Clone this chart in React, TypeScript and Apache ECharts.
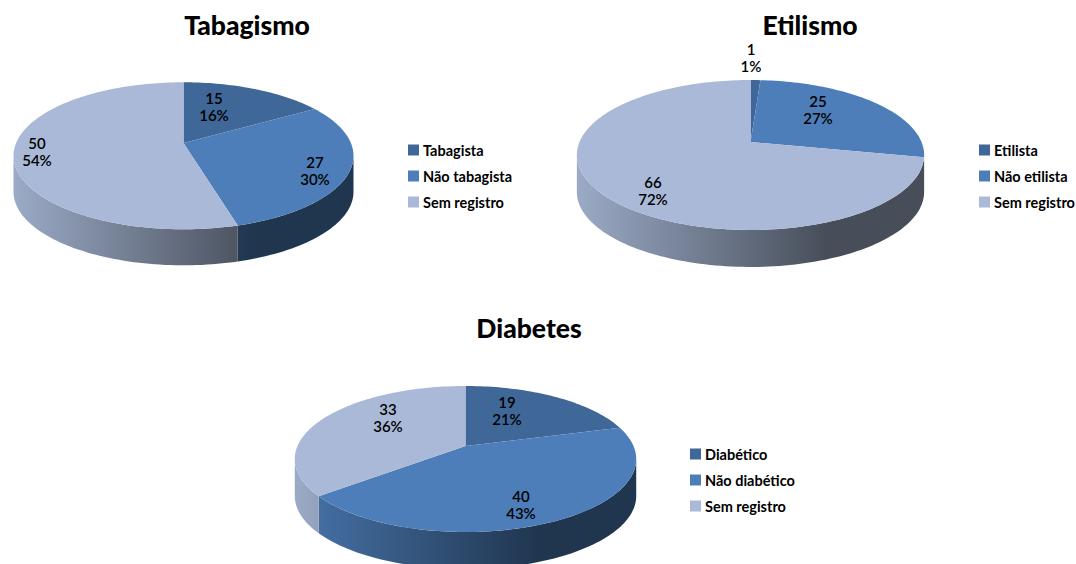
import React, { useEffect, useRef } from "react";
import * as echarts from "echarts";

const FONT = "Lato, 'Open Sans', sans-serif";
const sliceColors = ["#3F6797", "#4D7EB9", "#A9B9D7"];

const tabagismoNames = ["Tabagista", "Não tabagista", "Sem registro"];
const tabagismoValues = [15, 27, 50];
const tabagismoPercents = ["16%", "30%", "54%"];

const etilismoNames = ["Etilista", "Não etilista", "Sem registro"];
const etilismoValues = [1, 25, 66];
const etilismoPercents = ["1%", "27%", "72%"];

const diabetesNames = ["Diabético", "Não diabético", "Sem registro"];
const diabetesValues = [19, 40, 33];
const diabetesPercents = ["21%", "43%", "36%"];

const pies = [
  {
    title: "Tabagismo", names: tabagismoNames, values: tabagismoValues, percents: tabagismoPercents,
    cx: 183.5, cy: 143, rx: 167.4, ry: 71.3, k: 0.174, depth: 36,
    labels: [[214, 106], [315, 170], [37, 151]],
    titleX: 247, titleY: 11, legendX: 408, legendY: 142.5,
  },
  {
    title: "Etilismo", names: etilismoNames, values: etilismoValues, percents: etilismoPercents,
    cx: 750.5, cy: 142, rx: 171, ry: 72.7, k: 0.1734, depth: 37,
    labels: [[751, 57], [818, 109], [653, 190]],
    titleX: 810, titleY: 11, legendX: 979, legendY: 142.5,
  },
  {
    title: "Diabetes", names: diabetesNames, values: diabetesValues, percents: diabetesPercents,
    cx: 465.5, cy: 446, rx: 168, ry: 70.7, k: 0.178, depth: 37,
    labels: [[507, 410], [521, 504], [388, 417]],
    titleX: 529, titleY: 314, legendX: 690, legendY: 446.5,
  },
];

function shade(hex: string, f: number) {
  const n = parseInt(hex.slice(1), 16);
  const c = [(n >> 16) & 255, (n >> 8) & 255, n & 255].map((v) => Math.round(v * f));
  return `rgb(${c[0]},${c[1]},${c[2]})`;
}

function project(p: any, theta: number): [number, number] {
  const u = Math.sin(theta);
  const v = Math.cos(theta);
  const w = 1 + p.k * v;
  return [p.cx + (p.rx * u) / w, p.cy - (p.ry * v) / w];
}

function arc(p: any, a: number, b: number) {
  const n = Math.max(2, Math.ceil(((b - a) / (2 * Math.PI)) * 240));
  const pts: [number, number][] = [];
  for (let i = 0; i <= n; i++) pts.push(project(p, a + ((b - a) * i) / n));
  return pts;
}

function makeSeries(p: any) {
  const total = p.values.reduce((s: number, v: number) => s + v, 0);
  const halfW = p.rx / Math.sqrt(1 - p.k * p.k);
  return p.values.map((value: number, idx: number) => {
    const before = p.values.slice(0, idx).reduce((s: number, v: number) => s + v, 0);
    const color = sliceColors[idx];
    return {
      type: "custom",
      name: p.names[idx],
      coordinateSystem: "none",
      itemStyle: { color },
      silent: true,
      data: [[value, before, total]],
      renderItem: (_params: any, api: any) => {
        const a = (api.value(1) / api.value(2)) * 2 * Math.PI;
        const b = ((api.value(1) + api.value(0)) / api.value(2)) * 2 * Math.PI;
        const children: any[] = [];
        const front = Math.acos(-p.k);
        const wa = Math.max(a, front);
        const wb = Math.min(b, 2 * Math.PI - front);
        if (wb > wa) {
          const edge = arc(p, wa, wb);
          const lower = edge.map(([x, y]) => [x, y + p.depth]).reverse();
          children.push({
            type: "polygon",
            shape: { points: [...edge, ...lower] },
            style: {
              fill: new echarts.graphic.LinearGradient(
                p.cx - halfW, 0, p.cx + halfW, 0,
                [
                  { offset: 0, color: shade(color, 0.92) },
                  { offset: 0.72, color: shade(color, 0.42) },
                  { offset: 1, color: shade(color, 0.42) },
                ],
                true
              ),
            },
          });
        }
        children.push({
          type: "polygon",
          shape: { points: [[p.cx, p.cy], ...arc(p, a, b)] },
          style: { fill: color },
        });
        return { type: "group", children };
      },
    };
  });
}

function labelSeries(p: any) {
  return {
    type: "custom",
    coordinateSystem: "none",
    silent: true,
    z: 5,
    data: p.values.map((v: number, i: number) => [v, i]),
    renderItem: (_params: any, api: any) => {
      const i = api.value(1);
      return {
        type: "text",
        x: p.labels[i][0],
        y: p.labels[i][1],
        style: {
          text: `${api.value(0)}\n${p.percents[i]}`,
          font: `600 15px ${FONT}`,
          fill: "#000",
          align: "center",
          verticalAlign: "middle",
          lineHeight: 17,
        },
      };
    },
  };
}

export default function App() {
  const ref = useRef<HTMLDivElement>(null);
  useEffect(() => {
    const chart = echarts.init(ref.current!, undefined, { renderer: "svg" });
    chart.setOption({
      animation: false,
      backgroundColor: "#fff",
      title: pies.map((p) => ({
        text: p.title,
        left: p.titleX,
        top: p.titleY,
        textAlign: "center",
        padding: 0,
        textStyle: { fontFamily: FONT, fontSize: 26.5, fontWeight: 900, color: "#000" },
      })),
      legend: pies.map((p) => ({
        data: p.names,
        left: p.legendX,
        top: p.legendY,
        orient: "vertical",
        padding: 0,
        itemWidth: 11,
        itemHeight: 11,
        itemGap: 11,
        selectedMode: false,
        icon: "rect",
        textStyle: { fontFamily: FONT, fontSize: 14.5, fontWeight: 700, color: "#000", padding: [0, 0, 0, -1], lineHeight: 14 },
      })),
      series: [...pies.flatMap(makeSeries), ...pies.map(labelSeries)],
    });
    return () => chart.dispose();
  }, []);
  return <div ref={ref} style={{ position: "absolute", left: 0, top: 0, width: 1076, height: 564 }} />;
}
